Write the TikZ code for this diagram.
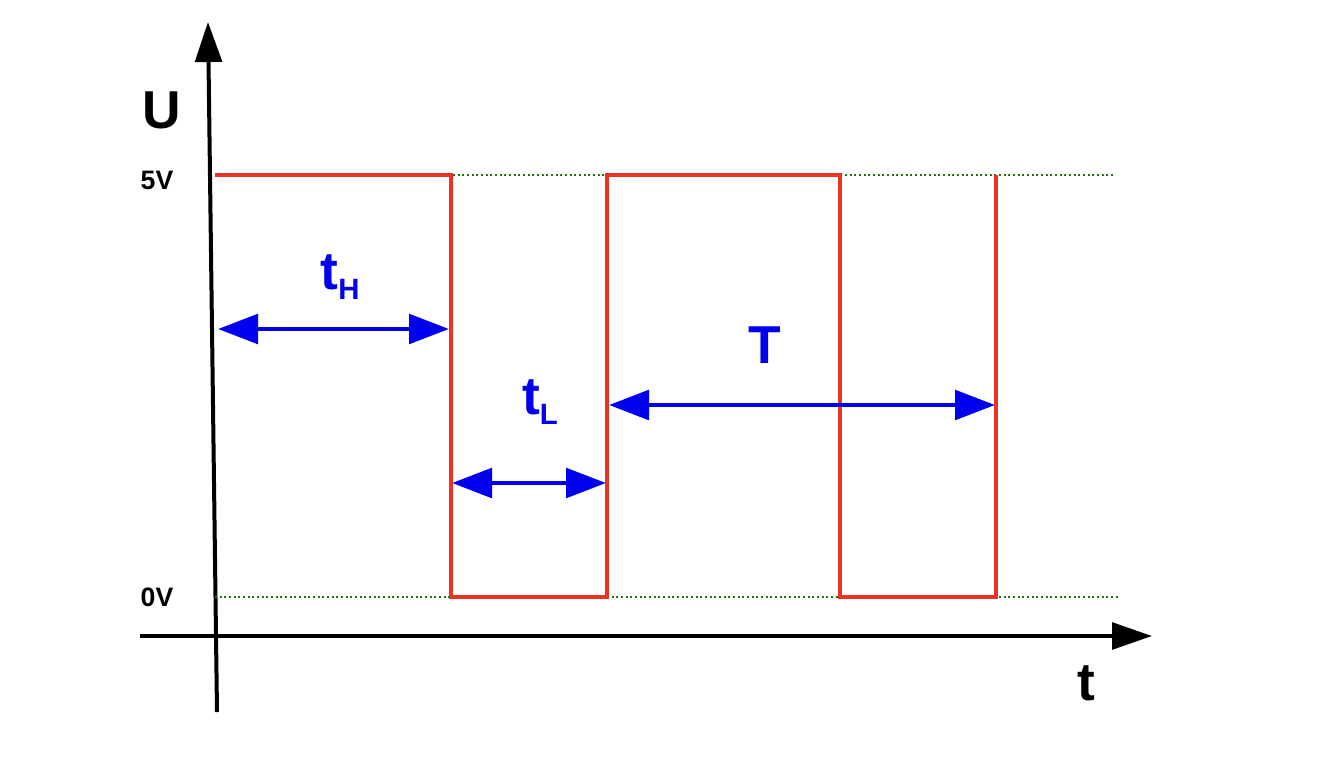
\documentclass[tikz,border=0pt]{standalone}
\usepackage{fontspec}
\setmainfont{Liberation Sans}
\usetikzlibrary{arrows.meta}

\tikzset{every picture/.style={line width=0.75pt}}
\tikzset{
  axis/.style={line width=3pt,-{Triangle[length=30pt,width=20pt]}},
  signal/.style={draw={rgb,255:red,234;green,51;blue,35},line width=3pt},
  level/.style={draw={rgb,255:red,40;green,110;blue,20},line width=1.5pt,dotted},
  span/.style={draw={rgb,255:red,0;green,0;blue,240},line width=3.5pt,
    {Triangle[length=30pt,width=22pt]}-{Triangle[length=30pt,width=22pt]}},
  lbl/.style={inner sep=0pt,font=\bfseries},
  blbl/.style={inner sep=0pt,font=\bfseries,text={rgb,255:red,0;green,0;blue,240}}
}

\begin{document}
\begin{tikzpicture}[x=0.75pt,y=0.75pt,yscale=-1,xscale=1]
\useasboundingbox (0,0) rectangle (1318,758);

% Axes
\coordinate (ybot) at (217,712);
\coordinate (ytop) at (208,22);
\coordinate (xl) at (140,636);
\coordinate (xr) at (1152,636);
\draw [axis] (ybot) -- (ytop);
\draw [axis] (xl) -- (xr);

% Levels
\coordinate (h0) at (215,175);
\coordinate (h1) at (1115,175);
\coordinate (l0) at (215,597);
\coordinate (l1) at (1120,597);
\draw [level] (h0) -- (h1);
\draw [level] (l0) -- (l1);

% Signal
\draw [signal] (h0) -- (451,175) -- (451,597) -- (607,597) -- (607,175) -- (840,175) -- (840,597) -- (996,597) -- (996,175);

% Spans
\coordinate (a0) at (218,329);
\coordinate (a1) at (449,329);
\coordinate (b0) at (452,483);
\coordinate (b1) at (606,483);
\coordinate (c0) at (609,405);
\coordinate (c1) at (995,405);
\draw [span] (a0) -- (a1);
\draw [span] (b0) -- (b1);
\draw [span] (c0) -- (c1);

% Text Node
\node [lbl,font=\bfseries\fontsize{40}{40}\selectfont] (U) at (162,110) {U};
\node [lbl,font=\bfseries\fontsize{20}{20}\selectfont] (v5) at (157,180) {5V};
\node [lbl,font=\bfseries\fontsize{20}{20}\selectfont] (v0) at (157,597) {0V};
\node [lbl,font=\bfseries\fontsize{40}{40}\selectfont] (t) at (1086,683) {t};
\node [blbl,font=\bfseries\fontsize{40}{40}\selectfont] (tH) at (340,277) {t\raisebox{-8pt}{\fontsize{22}{22}\selectfont H}};
\node [blbl,font=\bfseries\fontsize{40}{40}\selectfont] (tL) at (540,402) {t\raisebox{-8pt}{\fontsize{22}{22}\selectfont L}};
\node [blbl,font=\bfseries\fontsize{40}{40}\selectfont] (T) at (765,345) {T};

\end{tikzpicture}
\end{document}
